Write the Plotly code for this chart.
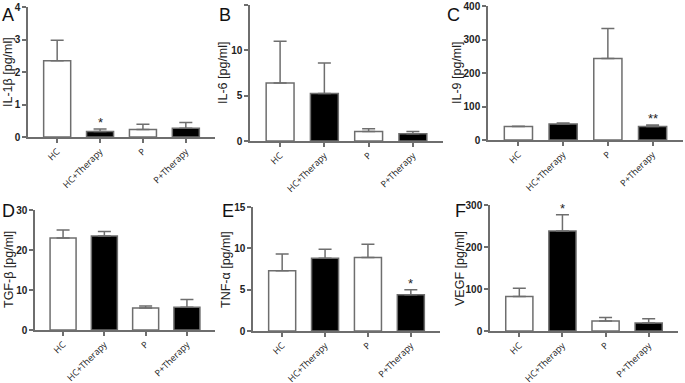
import plotly.graph_objects as go

categories = ["HC", "HC+Therapy", "P", "P+Therapy"]
bar_fill = ["white", "black", "white", "black"]

il1b_mean = [2.35, 0.17, 0.23, 0.27]
il1b_sd = [0.63, 0.08, 0.16, 0.18]
il1b_sig = ["", "*", "", ""]

il6_mean = [6.4, 5.25, 1.05, 0.8]
il6_sd = [4.6, 3.35, 0.3, 0.25]
il6_sig = ["", "", "", ""]

il9_mean = [40, 48, 243, 40]
il9_sd = [1, 3, 90, 5]
il9_sig = ["", "", "", "**"]

tgfb_mean = [23.0, 23.5, 5.5, 5.7]
tgfb_sd = [2.0, 1.1, 0.5, 1.9]
tgfb_sig = ["", "", "", ""]

tnfa_mean = [7.3, 8.8, 8.9, 4.4]
tnfa_sd = [2.0, 1.1, 1.6, 0.6]
tnfa_sig = ["", "", "", "*"]

vegf_mean = [82, 238, 24, 19]
vegf_sd = [20, 39, 8, 10]
vegf_sig = ["", "*", "", ""]

W, H = 685, 383
LINE = "#6e6e6e"
FONT = "Liberation Sans, Arial, sans-serif"
CATFONT = "Open Sans, sans-serif"

panels = [
    # letter, title, mean, sd, sig, ymax, dtick, (x0,x1,ytop,ybot) px, letter pos, title x
    ("A", "IL-1β [pg/ml]", il1b_mean, il1b_sd, il1b_sig, 4, 1, (28, 215, 7, 137), (0, 3), 8),
    ("B", "IL-6 [pg/ml]", il6_mean, il6_sd, il6_sig, 15, 5, (250, 443, 5, 141), (217, 3), 223),
    ("C", "IL-9 [pg/ml]", il9_mean, il9_sd, il9_sig, 400, 100, (488, 683, 6, 140), (445, 3), 457),
    ("D", "TGF-β [pg/ml]", tgfb_mean, tgfb_sd, tgfb_sig, 30, 10, (35, 215, 210, 330), (0, 199), 9),
    ("E", "TNF-α [pg/ml]", tnfa_mean, tnfa_sd, tnfa_sig, 15, 5, (253, 440, 207, 331), (220, 199), 226),
    ("F", "VEGF [pg/ml]", vegf_mean, vegf_sd, vegf_sig, 300, 100, (490, 678, 205, 331), (453, 199), 460),
]

fig = go.Figure()
layout = dict(
    width=W, height=H, autosize=False,
    margin=dict(l=0, r=0, t=0, b=0),
    paper_bgcolor="white", plot_bgcolor="white",
    showlegend=False,
    font=dict(family=FONT, color="#222"),
)
annotations = []

for i, (letter, title, mean, sd, sig, ymax, dtick, box, lpos, tx) in enumerate(panels):
    n = "" if i == 0 else str(i + 1)
    xa, ya = "x" + n, "y" + n
    x0, x1, yt, yb = box
    fig.add_trace(go.Bar(
        x=categories, y=mean, xaxis=xa, yaxis=ya, width=0.63,
        marker=dict(color=bar_fill, line=dict(color=LINE, width=1.5)),
        error_y=dict(type="data", array=sd, arrayminus=[0] * len(sd), symmetric=False,
                     color=LINE, thickness=1.5, width=6.5),
    ))
    layout["xaxis" + n] = dict(
        domain=[x0 / W, x1 / W], anchor=ya, range=[-0.68, 3.68],
        showline=True, linecolor=LINE, linewidth=1.5, ticks="outside", ticklen=4,
        tickcolor=LINE, tickwidth=1.5, tickangle=-45, showgrid=False, zeroline=False,
        tickfont=dict(size=9, family=CATFONT, color="#222"), fixedrange=True,
        automargin=False,
    )
    layout["yaxis" + n] = dict(
        domain=[1 - yb / H, 1 - yt / H], anchor=xa, range=[0, ymax], dtick=dtick,
        tick0=0, showline=True, linecolor=LINE, linewidth=1.5, ticks="outside",
        ticklen=4, tickcolor=LINE, tickwidth=1.5, showgrid=False, zeroline=False,
        tickfont=dict(size=10, family="Liberation Sans, Arial", color="#222", weight="bold"),
        fixedrange=True, automargin=False,
    )
    annotations.append(dict(
        text=letter, xref="paper", yref="paper", x=lpos[0] / W, y=1 - lpos[1] / H,
        xanchor="left", yanchor="top", showarrow=False,
        font=dict(size=18, family=FONT, color="#111"),
    ))
    annotations.append(dict(
        text=title, xref="paper", yref="paper", x=tx / W, y=1 - (yt + yb) / 2 / H,
        xanchor="center", yanchor="middle", textangle=-90, showarrow=False,
        font=dict(size=12.5, family=FONT, color="#222"),
    ))
    for c, m, s, t in zip(categories, mean, sd, sig):
        if t:
            annotations.append(dict(
                text=t, xref=xa, yref=ya, x=c, y=m + s, yanchor="bottom",
                showarrow=False, yshift=-3, font=dict(size=13, family=FONT, color="#222"),
            ))

layout["annotations"] = annotations
fig.update_layout(**layout)
fig.write_html(
    "out.html",
    config={"displayModeBar": False},
    post_script="document.body.style.margin='0';document.body.style.padding='0';",
)
